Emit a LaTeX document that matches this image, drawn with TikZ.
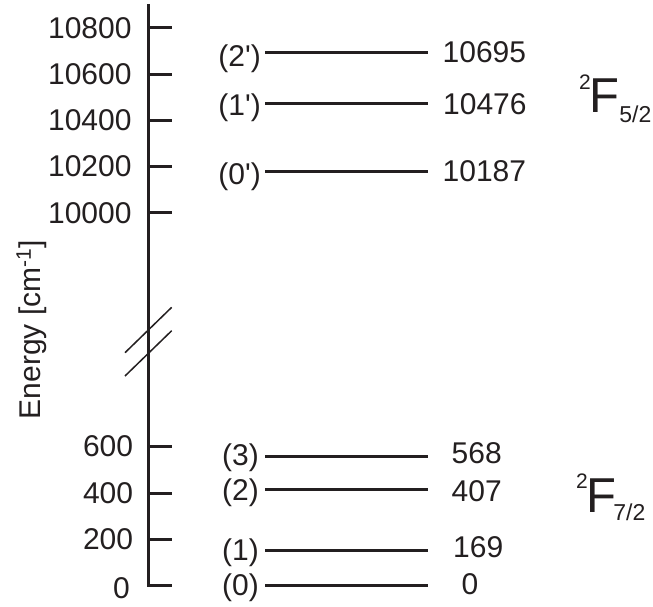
\documentclass[tikz,border=0pt]{standalone}
\usepackage{fontspec}
\setmainfont{Liberation Sans}
\definecolor{ink}{HTML}{231F20}
\begin{document}
\begin{tikzpicture}[x=1pt,y=-1pt,
  axisline/.style={draw=ink,line width=3pt},
  tickline/.style={draw=ink,line width=3pt},
  levelline/.style={draw=ink,line width=3pt},
  breakline/.style={draw=ink,line width=1.5pt},
  txt/.style={text=ink,inner sep=0pt,font=\fontsize{30}{36}\selectfont},
  term/.style={text=ink,inner sep=0pt,anchor=base west}]
\useasboundingbox (0,0) rectangle (653,607);
% axis
\coordinate (atop) at (148.5,4);
\coordinate (abot) at (148.5,585.5);
\coordinate (t0) at (172,585.5);
\draw[axisline,line cap=butt,line join=miter] (atop) -- (abot) -- (t0);
% ticks
\foreach \y [count=\i] in {27.5,74.5,120.5,166.5,212.5,446.5,493.5,539.5}{
  \coordinate (ta\i) at (148.5,\y);
  \coordinate (tb\i) at (172,\y);
  \draw[tickline] (ta\i) -- (tb\i);
}
% tick labels
\node[txt,anchor=base east] (l10800) at (131.7,38.3) {10800};
\node[txt,anchor=base east] (l10600) at (131.7,85) {10600};
\node[txt,anchor=base east] (l10400) at (131.7,131) {10400};
\node[txt,anchor=base east] (l10200) at (131.7,176.7) {10200};
\node[txt,anchor=base east] (l10000) at (131.7,223.3) {10000};
\node[txt,anchor=base east] (l600) at (133.3,456.7) {600};
\node[txt,anchor=base east] (l400) at (133.3,503.3) {400};
\node[txt,anchor=base east] (l200) at (133.3,549.3) {200};
\node[txt,anchor=base east] (l0) at (130,598) {0};
% break
\coordinate (b1a) at (125,352.7); \coordinate (b1b) at (171.7,307.3);
\coordinate (b2a) at (125,376); \coordinate (b2b) at (171.7,330.7);
\draw[breakline] (b1a) -- (b1b);
\draw[breakline] (b2a) -- (b2b);
% axis title
\node[txt,rotate=90,anchor=base] (etitle) at (40,329.5) {Energy [cm\textsuperscript{-1}]};
% levels
\foreach \n/\y in {p2/52.5,p1/103.5,p0/171.5,q3/456.5,q2/489.5,q1/550.5,q0/585.5}{
  \coordinate (\n L) at (265,\y);
  \coordinate (\n R) at (428.3,\y);
  \draw[levelline] (\n L) -- (\n R);
}
% level names
\node[txt,anchor=base east] (np2) at (261,66.5) {(2\textquotesingle)};
\node[txt,anchor=base east] (np1) at (261,116) {(1\textquotesingle)};
\node[txt,anchor=base east] (np0) at (261,184) {(0\textquotesingle)};
\node[txt,anchor=base east] (nq3) at (259,465) {(3)};
\node[txt,anchor=base east] (nq2) at (259,500) {(2)};
\node[txt,anchor=base east] (nq1) at (259,560) {(1)};
\node[txt,anchor=base east] (nq0) at (259,595) {(0)};
% level energies
\node[txt,anchor=base west] (ep2) at (442.5,62.3) {10695};
\node[txt,anchor=base west] (ep1) at (443,114.3) {10476};
\node[txt,anchor=base west] (ep0) at (442.5,181) {10187};
\node[txt,anchor=base west] (eq3) at (451.5,463.3) {568};
\node[txt,anchor=base west] (eq2) at (451.5,501.7) {407};
\node[txt,anchor=base west] (eq1) at (453,557.3) {169};
\node[txt,anchor=base west] (eq0) at (461.5,594) {0};
% term symbols
\node[term] (f52) at (579,113) {\raisebox{23pt}{\fontsize{21}{21}\selectfont 2}\hspace{-1.5pt}{\fontsize{49}{49}\selectfont F}\raisebox{-10pt}{\fontsize{23}{23}\selectfont 5/2}};
\node[term] (f72) at (576,512) {\raisebox{24pt}{\fontsize{21}{21}\selectfont 2}\hspace{-1.5pt}{\fontsize{49}{49}\selectfont F}\hspace{-3pt}\raisebox{-8.3pt}{\fontsize{23}{23}\selectfont 7/2}};
\end{tikzpicture}
\end{document}
